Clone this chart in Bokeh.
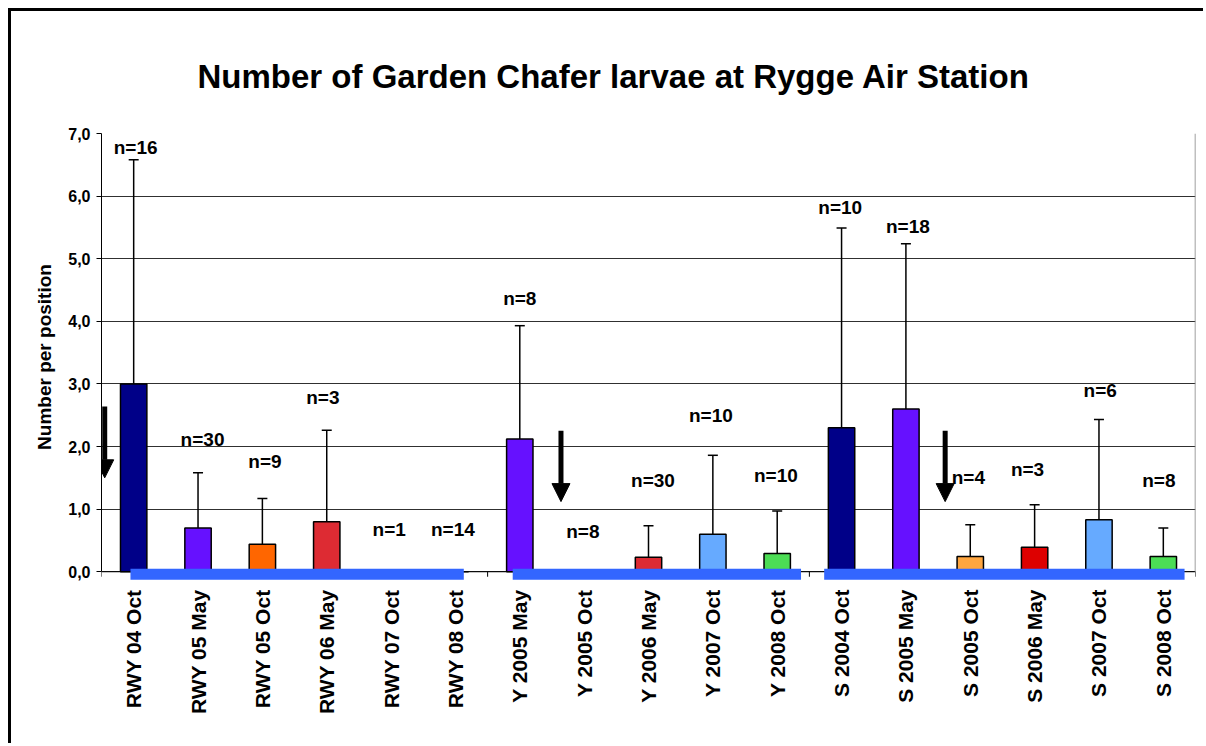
from math import pi
from bokeh.plotting import figure
from bokeh.models import (ColumnDataSource, FactorRange, Range1d, FixedTicker,
                          CustomJSTickFormatter, Whisker, TeeHead, Arrow, NormalHead)
from bokeh.embed import file_html
from bokeh.resources import INLINE
from bokeh.core.properties import value

# ---------------- data ----------------
title_text = "Number of Garden Chafer larvae at Rygge Air Station"
categories = ["RWY 04 Oct", "RWY 05 May", "RWY 05 Oct", "RWY 06 May", "RWY 07 Oct", "RWY 08 Oct",
              "Y 2005 May", "Y 2005 Oct", "Y 2006 May", "Y 2007 Oct", "Y 2008 Oct",
              "S 2004 Oct", "S 2005 May", "S 2005 Oct", "S 2006 May", "S 2007 Oct", "S 2008 Oct"]
means = [3.00, 0.70, 0.44, 0.80, 0.0, 0.0,
         2.12, 0.0, 0.23, 0.60, 0.29,
         2.30, 2.60, 0.245, 0.39, 0.83, 0.245]
upper_err = [6.58, 1.58, 1.17, 2.26, None, None,
             3.93, None, 0.735, 1.86, 0.97,
             5.49, 5.24, 0.75, 1.07, 2.43, 0.70]
n_values = [16, 30, 9, 3, 1, 14, 8, 8, 30, 10, 10, 10, 18, 4, 3, 6, 8]
groups = ["RWY"] * 6 + ["Y"] * 5 + ["S"] * 6
y_ticks = [0, 1, 2, 3, 4, 5, 6, 7]

# ---------------- styling / annotation placement ----------------
colors = ["#000088", "#6611FF", "#FF6600", "#DD2B33", "#DD2B33", "#DD2B33",
          "#6611FF", "#DD2B33", "#DD2B33", "#66AAFF", "#4CDD55",
          "#000088", "#6611FF", "#FFA640", "#DD0000", "#66AAFF", "#4CDD55"]
label_y = [6.78, 2.11, 1.76, 2.79, 0.68, 0.68, 4.37, 0.64, 1.45, 2.49, 1.53,
           5.82, 5.51, 1.51, 1.64, 2.89, 1.45]
label_dx = [0.03, 0.07, 0.04, -0.06, -0.03, -0.04, 0.0, -0.02, 0.07, -0.03, -0.02,
            -0.02, 0.03, -0.03, -0.11, 0.02, -0.07]
group_names = ["RWY", "Y", "S"]
group_pad = {"RWY": (-0.05, 0.13), "Y": (-0.11, 0.37), "S": (-0.27, 0.33)}
arrows = [(0.05, 2.64, 1.50), (7.14, 2.25, 1.12), (13.11, 2.25, 1.12)]

FONT = "Liberation Sans"

p = figure(x_range=FactorRange(*categories), y_range=Range1d(-0.14, 7.0),
           width=1195, height=735, output_backend="svg", toolbar_location=None,
           min_border_left=90, min_border_right=11, min_border_top=122, min_border_bottom=166)
p.styles = {"margin-left": "8px", "margin-top": "8px",
            "border-left": "3px solid black", "border-top": "3px solid black"}

p.title.text = title_text
p.title.align = "left"
p.title.text_font = FONT
p.title.text_font_size = "33px"
p.title.text_font_style = "bold"
p.title.text_color = "black"
p.title.standoff = 78
p.title.offset = 96

p.outline_line_color = None
p.background_fill_color = "white"
p.border_fill_color = "white"
p.xgrid.grid_line_color = None
p.ygrid.ticker = FixedTicker(ticks=y_ticks)
p.ygrid.grid_line_color = "#303030"
p.ygrid.grid_line_width = 1

# y axis
p.yaxis.ticker = FixedTicker(ticks=y_ticks)
p.yaxis.bounds = (0, 7)
p.yaxis.formatter = CustomJSTickFormatter(code="return tick.toFixed(1).replace('.', ',');")
p.yaxis.axis_label = "Number per position"
p.yaxis.axis_label_text_font = FONT
p.yaxis.axis_label_text_font_size = "19px"
p.yaxis.axis_label_text_font_style = "bold"
p.yaxis.axis_label_text_color = "black"
p.yaxis.axis_label_standoff = 10
p.yaxis.major_label_text_font = FONT
p.yaxis.major_label_text_font_size = "16px"
p.yaxis.major_label_text_font_style = "bold"
p.yaxis.major_label_text_color = "black"
p.yaxis.major_label_standoff = 6
p.yaxis.major_tick_out = 5
p.yaxis.major_tick_in = 0
p.yaxis.major_tick_line_color = "black"
p.yaxis.minor_tick_line_color = None
p.yaxis.axis_line_color = "black"

# x axis
p.xaxis.axis_line_color = None
p.xaxis.major_tick_line_color = None
p.xaxis.minor_tick_line_color = None
p.xaxis.major_label_orientation = pi / 2
p.xaxis.major_label_text_font = FONT
p.xaxis.major_label_text_font_size = "21px"
p.xaxis.major_label_text_font_style = "bold"
p.xaxis.major_label_text_color = "black"
p.xaxis.major_label_standoff = 3

# bars
src = ColumnDataSource(dict(x=categories, top=means, color=colors))
p.vbar(x="x", top="top", width=0.41, source=src, fill_color="color",
       line_color="black", line_width=1.5)

# error bars (upper only)
ex = [c for c, u in zip(categories, upper_err) if u is not None]
eu = [u for u in upper_err if u is not None]
el = [m for m, u in zip(means, upper_err) if u is not None]
esrc = ColumnDataSource(dict(x=ex, upper=eu, lower=el))
p.add_layout(Whisker(base="x", upper="upper", lower="lower", source=esrc,
                     upper_head=TeeHead(size=10, line_width=1.5, line_color="black"),
                     lower_head=None, line_width=1.5, line_color="black"))

# x axis line, boundary ticks and right border
ncat = len(categories)
p.segment(x0=[0], y0=[0], x1=[ncat], y1=[0], line_color="black", line_width=1)
p.segment(x0=list(range(ncat + 1)), y0=[0] * (ncat + 1), x1=list(range(ncat + 1)),
          y1=[-0.08] * (ncat + 1), line_color="black", line_width=1)
p.segment(x0=[ncat], y0=[0], x1=[ncat], y1=[7], line_color="#808080", line_width=1.5)

# group underline bars
gx0, gx1 = [], []
for g in group_names:
    idx = [i for i, gg in enumerate(groups) if gg == g]
    gx0.append(idx[0] + 0.5 + group_pad[g][0])
    gx1.append(idx[-1] + 0.5 + group_pad[g][1])
p.quad(left=gx0, right=gx1, bottom=[-0.128] * 3, top=[0.048] * 3,
       fill_color="#3366FF", line_color=None)

# n labels
lsrc = ColumnDataSource(dict(x=[i + 0.5 + d for i, d in enumerate(label_dx)], y=label_y,
                             t=["n=%d" % n for n in n_values]))
p.text(x="x", y="y", text="t", source=lsrc, text_align="center", text_baseline="middle",
       text_font=value(FONT), text_font_size="19px", text_font_style="bold", text_color="black")

# arrows
for ax, ay0, ay1 in arrows:
    p.add_layout(Arrow(x_start=ax, y_start=ay0, x_end=ax, y_end=ay1, line_width=5,
                       line_color="black",
                       end=NormalHead(size=18, fill_color="black", line_color="black")))

open("out.html", "w").write(file_html(p, INLINE))
